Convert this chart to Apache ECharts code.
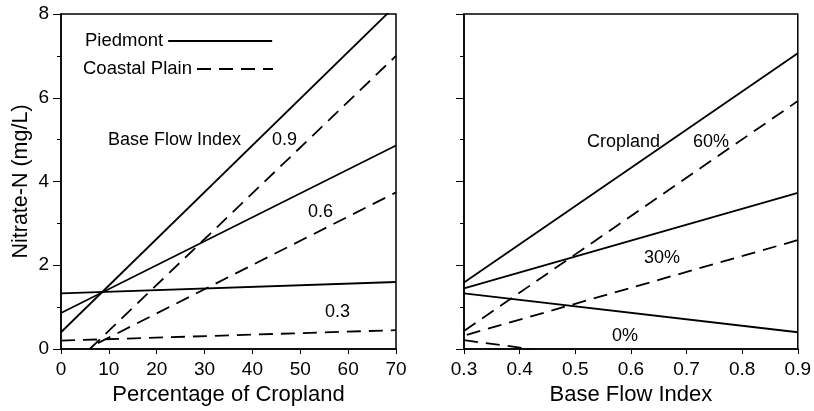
<!DOCTYPE html>
<html lang="en">
<head>
    <meta charset="UTF-8">
    <title>nitrate</title>
    <script src="https://cdn.jsdelivr.net/npm/echarts@6/dist/echarts.min.js"></script>
    <style>
        body { margin: 0; background: #fff; }
        #c { width: 814px; height: 411px; }
    </style>
</head>
<body>
<div id="c"></div>
<script type="text/javascript">
// left panel: nitrate vs % cropland, one line per base flow index
var piedBfi09 = [[0, 0.40], [70, 8.21]];
var piedBfi06 = [[0, 0.86], [70, 4.86]];
var piedBfi03 = [[0, 1.33], [70, 1.60]];
var coastBfi09 = [[6.0, 0.00], [70, 7.00]];
var coastBfi06 = [[7.7, 0.14], [70, 3.74]];
var coastBfi03 = [[0, 0.20], [70, 0.45]];

// right panel: nitrate vs base flow index, one line per % cropland
var piedCrop60 = [[0.3, 1.59], [0.9, 7.06]];
var piedCrop30 = [[0.3, 1.45], [0.9, 3.73]];
var piedCrop0 = [[0.3, 1.33], [0.9, 0.40]];
var coastCrop60 = [[0.3, 0.43], [0.9, 5.92]];
var coastCrop30 = [[0.305, 0.34], [0.9, 2.60]];
var coastCrop0 = [[0.3, 0.21], [0.42, 0.00]];

var bfiLabels = ['0.9', '0.6', '0.3'];
var cropLabels = ['60%', '30%', '0%'];

var font = 'Liberation Sans';
var dash = [14, 8];

function line(name, data, xi, dashed) {
    return {
        name: name,
        type: 'line',
        xAxisIndex: xi,
        yAxisIndex: xi,
        data: data,
        symbol: 'none',
        clip: true,
        silent: true,
        animation: false,
        itemStyle: {color: '#000'},
        lineStyle: {color: '#000', width: 1.8, type: dashed ? dash : 'solid'}
    };
}

function yAxis(idx, showLabel) {
    return {
        type: 'value', gridIndex: idx, min: 0, max: 8, interval: 2,
        name: showLabel ? 'Nitrate-N (mg/L)' : '',
        nameLocation: 'middle', nameGap: 29,
        nameTextStyle: {fontSize: 21.5, color: '#000', fontFamily: font},
        axisLine: {show: true, lineStyle: {color: '#000', width: 1.5}},
        axisTick: {show: true, length: 8, lineStyle: {color: '#000'}},
        minorTick: {show: true, splitNumber: 2, length: 4, lineStyle: {color: '#000'}},
        splitLine: {show: false},
        axisLabel: {show: showLabel, margin: 12, fontSize: 19, color: '#000', fontFamily: font}
    };
}

function xAxis(idx, min, max, step, title, fmt) {
    return {
        type: 'value', gridIndex: idx, min: min, max: max, interval: step,
        name: title, nameLocation: 'middle', nameGap: 34,
        nameTextStyle: {fontSize: 22, color: '#000', fontFamily: font},
        axisLine: {show: true, onZero: false, lineStyle: {color: '#000', width: 1.5}},
        axisTick: {show: true, length: 5, lineStyle: {color: '#000'}},
        splitLine: {show: false},
        axisLabel: {margin: 11, fontSize: 19, color: '#000', fontFamily: font, formatter: fmt}
    };
}

function note(text, x, y) {
    return {type: 'text', left: x, top: y - 10,
        style: {text: text, fontSize: 18, fontFamily: font, fill: '#000', lineHeight: 20}};
}

function legendItem(name, x, y, w) {
    return {
        data: [name], left: x, top: y, align: 'right', itemWidth: w, itemHeight: 14,
        selectedMode: false,
        itemStyle: {opacity: 0},
        textStyle: {fontSize: 18.5, color: '#000', fontFamily: font, lineHeight: 20}
    };
}

var chart = echarts.init(document.getElementById('c'), null, {renderer: 'canvas'});
chart.setOption({
    backgroundColor: '#fff',
    animation: false,
    textStyle: {fontFamily: font},
    grid: [
        {left: 61, top: 14, width: 335, height: 335, show: true, borderColor: '#000', borderWidth: 1.5},
        {left: 464, top: 14, width: 336, height: 335, show: true, borderColor: '#000', borderWidth: 1.5}
    ],
    xAxis: [
        xAxis(0, 0, 70, 10, 'Percentage of Cropland', function (v) { return v; }),
        xAxis(1, 0.3, 0.9, 0.1, 'Base Flow Index', function (v) { return v.toFixed(1); })
    ],
    yAxis: [yAxis(0, true), yAxis(1, false)],
    legend: [
        legendItem('Piedmont', 80, 26, 104),
        legendItem('Coastal Plain', 78, 54, 76)
    ],
    graphic: [
        note('Base Flow Index', 108, 140),
        note(bfiLabels[0], 272, 140),
        note(bfiLabels[1], 308, 212),
        note(bfiLabels[2], 325, 312),
        note('Cropland', 587, 142),
        note(cropLabels[0], 693, 142),
        note(cropLabels[1], 644, 258),
        note(cropLabels[2], 612, 336)
    ],
    series: [
        line('Piedmont', piedBfi09, 0, false),
        line('Piedmont', piedBfi06, 0, false),
        line('Piedmont', piedBfi03, 0, false),
        line('Coastal Plain', coastBfi09, 0, true),
        line('Coastal Plain', coastBfi06, 0, true),
        line('Coastal Plain', coastBfi03, 0, true),
        line('Piedmont', piedCrop60, 1, false),
        line('Piedmont', piedCrop30, 1, false),
        line('Piedmont', piedCrop0, 1, false),
        line('Coastal Plain', coastCrop60, 1, true),
        line('Coastal Plain', coastCrop30, 1, true),
        line('Coastal Plain', coastCrop0, 1, true)
    ]
});
</script>
</body>
</html>
